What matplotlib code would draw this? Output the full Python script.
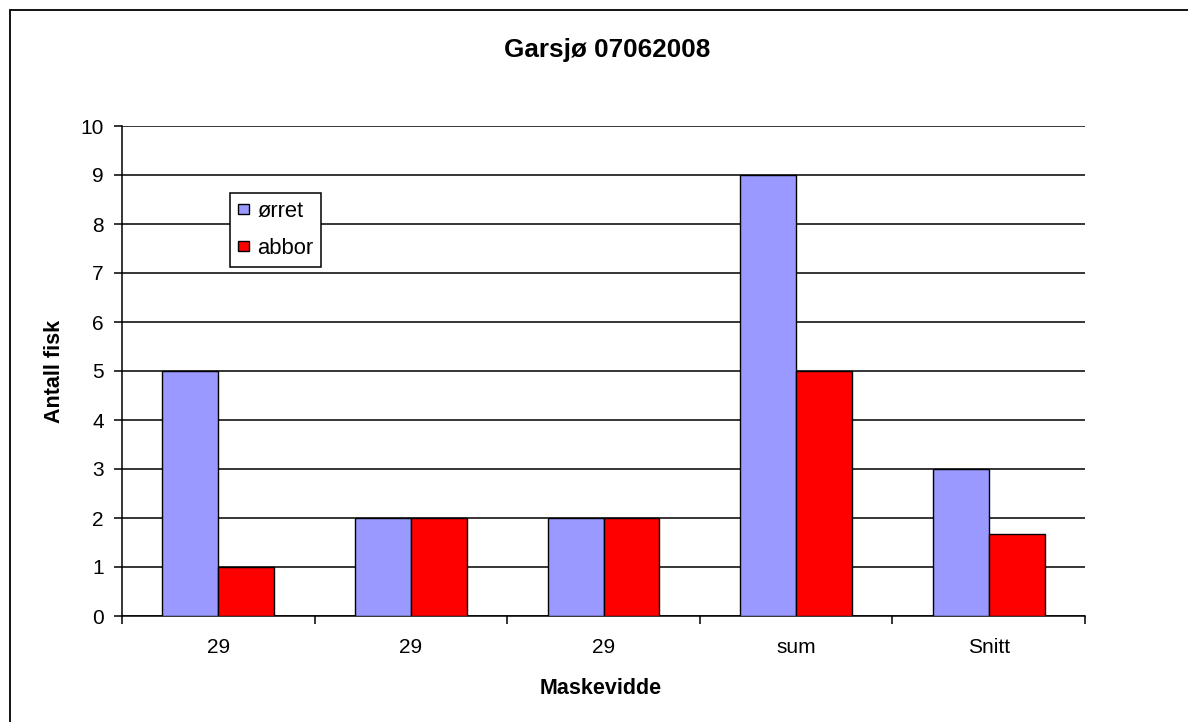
import matplotlib.pyplot as plt
import numpy as np
from matplotlib.patches import Rectangle

plt.rcParams['font.family'] = ['Liberation Sans', 'DejaVu Sans']

categories = ['29', '29', '29', 'sum', 'Snitt']
orret = [5, 2, 2, 9, 3]
abbor = [1, 2, 2, 5, 1.67]

fig = plt.figure(figsize=(11.88, 7.22), dpi=100)
ax = fig.add_axes([122/1188, 1 - 616/722, (1085-122)/1188, (616-126)/722])

# outer chart border
fig.patches.append(Rectangle((10/1188, -0.1), 1.2, 1 - 10/722 + 0.1, transform=fig.transFigure,
                             fill=False, edgecolor='black', linewidth=1.3))

x = np.arange(len(categories))
w = 0.29
ax.bar(x - w/2, orret, w, color='#9999FF', edgecolor='black', linewidth=1, label='ørret', zorder=3)
ax.bar(x + w/2, abbor, w, color='#FF0000', edgecolor='black', linewidth=1, label='abbor', zorder=3)

ax.set_xlim(-0.5, len(categories) - 0.5)
ax.set_ylim(0, 10)
ax.set_yticks(range(0, 11))
ax.yaxis.grid(True, color='black', linewidth=1.1)
ax.set_axisbelow(True)

ax.set_xticks(np.arange(-0.5, len(categories), 1))
ax.set_xticklabels([])
ax.set_xticks(x, minor=True)
ax.set_xticklabels(categories, minor=True)
ax.tick_params(axis='x', which='minor', length=0, pad=16, labelsize=15)
ax.tick_params(axis='x', which='major', length=6, direction='out', width=1.1)
ax.tick_params(axis='y', length=6, direction='out', width=1.1, labelsize=15, pad=7)

for s in ['top', 'right']:
    ax.spines[s].set_visible(False)
ax.spines['left'].set_linewidth(1.1)
ax.spines['bottom'].set_linewidth(1.1)

fig.text(607/1188, 1 - 50/722, 'Garsjø 07062008', fontsize=18.8, fontweight='bold',
         ha='center', va='center')
fig.text(601/1188, 1 - 689/722, 'Maskevidde', fontsize=15.5, fontweight='bold',
         ha='center', va='center')
fig.text(54/1188, 1 - 371/722, 'Antall fisk', fontsize=15.5, fontweight='bold',
         ha='center', va='center', rotation=90)

leg = ax.legend(loc='upper left', bbox_to_anchor=((230-122)/963, (616-193)/490),
                frameon=True, fancybox=False, edgecolor='black', fontsize=15.8,
                handlelength=0.5, handleheight=0.33, handletextpad=0.4,
                labelspacing=0.75, borderpad=0.35, borderaxespad=0)
leg.get_frame().set_linewidth(1.1)
leg.get_frame().set_alpha(1)

fig.savefig('out.png', dpi=100)
